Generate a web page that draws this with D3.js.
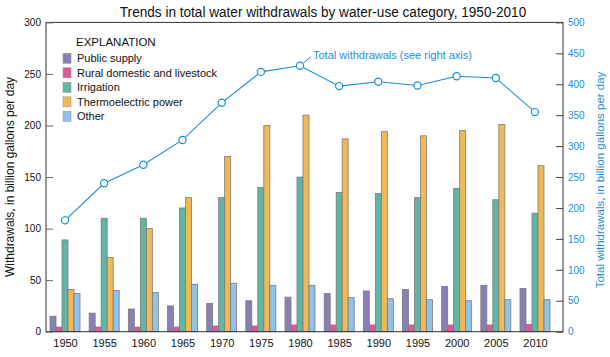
<!DOCTYPE html>
<html><head><meta charset="utf-8">
<script src="https://cdn.jsdelivr.net/npm/d3@7/dist/d3.min.js"></script>
<style>body{margin:0;background:#fff;}svg{display:block;font-family:"Liberation Sans",Arial,sans-serif;}</style>
</head><body>
<svg id="c" width="610" height="357"></svg>
<script>
const years = ["1950","1955","1960","1965","1970","1975","1980","1985","1990","1995","2000","2005","2010"];
const categories = ["Public supply","Rural domestic and livestock","Irrigation","Thermoelectric power","Other"];
const publicSupply = [15,18,22,25,27.5,30,33.5,37,39.5,41,44,45,42];
const ruralDomestic = [4.5,4.5,4.5,4.5,5.5,5.5,6.5,6.5,6.5,6.5,6.5,6.5,7];
const irrigation = [89,110,110,120,130,140,150,135,134,130,139,128,115];
const thermoelectric = [41,72,100,130,170,200,210,187,194,190,195,201,161];
const other = [37,40,38,46,47,45,45,33,32,31,30,31,31];
const totals = [180,240,270,310,370,420,430,397,404,398,413,410,355];
const leftTicks = [0,50,100,150,200,250,300];
const rightTicks = [0,50,100,150,200,250,300,350,400,450,500];
const colors = ["#8a7fb3","#e0579c","#62b4a4","#f0b955","#90c3ea"];
const lineColor = "#1b8fd6";

const series = [publicSupply, ruralDomestic, irrigation, thermoelectric, other];
const svg = d3.select("#c");
const L = 46, R = 563, T = 22.4, B = 331.7;

const yL = d3.scaleLinear().domain([0,300]).range([B,T]);
const yR = d3.scaleLinear().domain([0,500]).range([B,T]);
const x = d3.scalePoint().domain(years).range([65,535]);
const sub = d3.scaleBand().domain(categories).range([-15,15]).padding(0);

// Title
svg.append("text").attr("transform","translate(323,17) scale(1,1.13)")
  .attr("text-anchor","middle")
  .attr("font-size",13.6).attr("fill","#111")
  .text("Trends in total water withdrawals by water-use category, 1950-2010");

// Bars
categories.forEach((c,ci)=>{
  svg.append("g").selectAll("rect").data(years).join("rect")
    .attr("x",d=>x(d)+sub(c))
    .attr("width",sub.bandwidth())
    .attr("y",(d,i)=>yL(series[ci][i]))
    .attr("height",(d,i)=>B-yL(series[ci][i]))
    .attr("fill",colors[ci])
    .attr("stroke","#7a7a7a").attr("stroke-width",0.8);
});

// Frame
svg.append("rect").attr("x",L).attr("y",T).attr("width",R-L).attr("height",B-T)
  .attr("fill","none").attr("stroke","#333").attr("stroke-width",1);

// Left axis
const ga = svg.append("g").attr("transform",`translate(${L},0)`)
  .call(d3.axisLeft(yL).tickValues(leftTicks).tickSize(-7).tickPadding(5));
ga.select(".domain").remove();
ga.selectAll("line").attr("stroke","#666");
ga.selectAll("text").attr("font-size",10).attr("fill","#111").attr("font-family","Liberation Sans, Arial");

// Right axis
const gr = svg.append("g").attr("transform",`translate(${R},0)`)
  .call(d3.axisRight(yR).tickValues(rightTicks).tickSize(-7).tickPadding(5));
gr.select(".domain").remove();
gr.selectAll("line").attr("stroke","#444");
gr.selectAll("text").attr("font-size",10).attr("fill",lineColor).attr("font-family","Liberation Sans, Arial");

// X labels
const gx = svg.append("g").attr("transform",`translate(0,${B})`)
  .call(d3.axisBottom(x).tickSize(0).tickPadding(8));
gx.select(".domain").remove();
gx.selectAll("text").attr("font-size",11).attr("fill","#111").attr("font-family","Liberation Sans, Arial");

// Axis titles
svg.append("text").attr("transform","translate(14,177) rotate(-90)").attr("text-anchor","middle")
  .attr("font-size",12).attr("fill","#111").text("Withdrawals, in billion gallons per day");
svg.append("text").attr("transform","translate(604,180) rotate(-90)").attr("text-anchor","middle")
  .attr("font-size",11.5).attr("fill",lineColor).text("Total withdrawals, in billion gallons per day");

// Total line
const line = d3.line().x((d,i)=>x(years[i])).y(d=>yR(d));
svg.append("path").datum(totals).attr("d",line).attr("fill","none")
  .attr("stroke",lineColor).attr("stroke-width",1.1);
svg.append("g").selectAll("circle").data(totals).join("circle")
  .attr("cx",(d,i)=>x(years[i])).attr("cy",d=>yR(d)).attr("r",3.6)
  .attr("fill","#fff").attr("stroke",lineColor).attr("stroke-width",1.2);

// Annotation
const ai = years.indexOf("1980");
svg.append("line").attr("x1",x(years[ai])+3.5).attr("y1",yR(totals[ai])-3)
  .attr("x2",x(years[ai])+11).attr("y2",yR(totals[ai])-9)
  .attr("stroke",lineColor).attr("stroke-width",1);
svg.append("text").attr("x",x(years[ai])+13).attr("y",yR(totals[ai])-7)
  .attr("font-size",11).attr("fill",lineColor).text("Total withdrawals (see right axis)");

// Legend
const lg = svg.append("g");
lg.append("text").attr("x",76).attr("y",46).attr("font-size",11.5).attr("fill","#111").text("EXPLANATION");
categories.forEach((c,i)=>{
  const yy = 58.3 + i*14.5;
  lg.append("rect").attr("x",63).attr("y",yy-5).attr("width",8).attr("height",10)
    .attr("fill",colors[i]).attr("stroke","#999").attr("stroke-width",0.6);
  lg.append("text").attr("x",77).attr("y",yy+4).attr("font-size",11).attr("fill","#111").text(c);
});
</script>
</body></html>
